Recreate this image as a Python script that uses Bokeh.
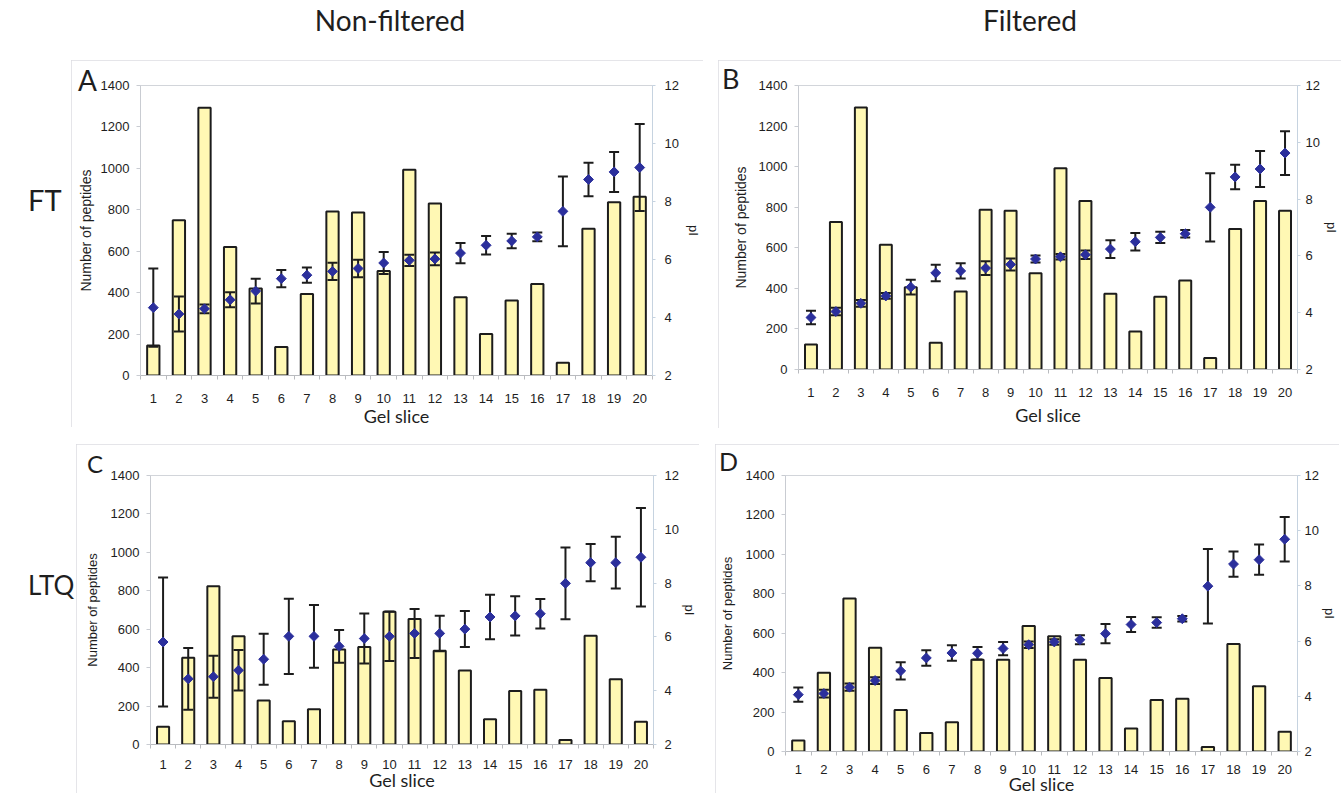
import math
from bokeh.plotting import figure
from bokeh.models import Range1d, LinearAxis, FixedTicker, Div, Spacer
from bokeh.layouts import row, column
from bokeh.embed import file_html
from bokeh.resources import INLINE

# ---------------- data ----------------
slices = list(range(1, 21))
slice_bounds = [s + 0.5 for s in range(0, 21)]
count_ticks = [0, 200, 400, 600, 800, 1000, 1200, 1400]
pi_ticks = [2, 4, 6, 8, 10, 12]

col_titles = ["Non-filtered", "Filtered"]
row_titles = ["FT", "LTQ"]
panel_letters = ["A", "B", "C", "D"]

# Panel A: FT, non-filtered
A_counts = [145, 750, 1293, 620, 420, 137, 393, 792, 787, 505, 993, 830, 378, 200, 362, 442, 61, 708, 836, 863]
A_pi = [4.34, 4.12, 4.30, 4.61, 4.91, 5.34, 5.46, 5.59, 5.69, 5.88, 5.97, 6.02, 6.22, 6.49, 6.64, 6.78, 7.66, 8.76, 9.02, 9.17]
A_err = [1.35, 0.60, 0.15, 0.26, 0.43, 0.30, 0.26, 0.30, 0.30, 0.38, 0.19, 0.22, 0.35, 0.32, 0.25, 0.15, 1.20, 0.58, 0.69, 1.50]

# Panel B: FT, filtered
B_counts = [123, 727, 1292, 615, 405, 132, 385, 787, 782, 475, 992, 831, 374, 187, 359, 439, 57, 693, 831, 782]
B_pi = [3.83, 4.04, 4.33, 4.59, 4.90, 5.40, 5.47, 5.57, 5.70, 5.89, 5.97, 6.04, 6.24, 6.50, 6.65, 6.78, 7.71, 8.78, 9.06, 9.62]
B_err = [0.24, 0.13, 0.12, 0.10, 0.26, 0.29, 0.27, 0.24, 0.21, 0.12, 0.10, 0.15, 0.31, 0.31, 0.20, 0.13, 1.20, 0.43, 0.63, 0.77]

# Panel C: LTQ, non-filtered
C_counts = [92, 451, 823, 563, 229, 121, 184, 494, 508, 691, 653, 488, 385, 131, 279, 285, 24, 566, 340, 118]
C_pi = [5.81, 4.44, 4.52, 4.76, 5.17, 6.02, 6.02, 5.65, 5.94, 6.02, 6.13, 6.13, 6.29, 6.74, 6.78, 6.86, 7.99, 8.76, 8.76, 8.96]
C_err = [2.40, 1.15, 0.78, 0.75, 0.95, 1.40, 1.17, 0.61, 0.93, 0.92, 0.91, 0.66, 0.67, 0.83, 0.73, 0.55, 1.33, 0.69, 0.96, 1.83]

# Panel D: LTQ, filtered
D_counts = [56, 399, 776, 526, 210, 94, 149, 466, 466, 637, 584, 466, 373, 117, 261, 268, 23, 545, 331, 100]
D_pi = [4.06, 4.10, 4.33, 4.57, 4.92, 5.39, 5.57, 5.56, 5.73, 5.87, 5.97, 6.05, 6.27, 6.60, 6.67, 6.81, 7.99, 8.79, 8.95, 9.69]
D_err = [0.26, 0.14, 0.13, 0.12, 0.31, 0.28, 0.28, 0.23, 0.24, 0.12, 0.10, 0.16, 0.35, 0.27, 0.19, 0.10, 1.35, 0.46, 0.55, 0.81]

# ---------------- style ----------------
BAR_FILL = "#fff8b4"
EDGE = "#1c1c1c"
PT = "#2b2f9c"
TXT = "#1e1e1e"
TICK_FONT = "Liberation Sans"
HEAD_FONT = "Lato"


def make_panel(counts, pis, errs, frame_size, borders, ylab_sd, rtick_sd, rlab_sd,
               xtick_sd, xlab_sd, lab_size):
    fw, fh = frame_size
    bl, br, bt, bb = borders
    p = figure(frame_width=fw, frame_height=fh,
               x_range=Range1d(0.5, 20.5), y_range=Range1d(0, 1400),
               output_backend="svg", toolbar_location=None, title=None,
               min_border_left=bl, min_border_right=br,
               min_border_top=bt, min_border_bottom=bb,
               background_fill_color="white", border_fill_color="white")
    p.styles = {"outline": "2px solid #dcdce2", "outline-offset": "-2px"}
    p.extra_y_ranges = {"pi": Range1d(2, 12)}
    p.grid.visible = False
    p.outline_line_color = "#d2d5da"
    p.outline_line_width = 1

    # left axis
    yl = p.yaxis[0]
    yl.ticker = FixedTicker(ticks=count_ticks)
    yl.axis_label = "Number of peptides"
    yl.axis_label_text_font = TICK_FONT
    yl.axis_label_text_font_size = lab_size
    yl.axis_label_text_font_style = "normal"
    yl.axis_label_text_color = TXT
    yl.axis_label_standoff = ylab_sd
    yl.major_label_text_font = TICK_FONT
    yl.major_label_text_font_size = "13px"
    yl.major_label_text_color = TXT
    yl.major_label_standoff = 7
    yl.axis_line_color = "#c9ccd2"
    yl.major_tick_line_color = "#c9ccd2"
    yl.major_tick_out = 4
    yl.major_tick_in = 0
    yl.minor_tick_line_color = None

    # bottom axis
    xa = p.xaxis[0]
    xa.ticker = FixedTicker(ticks=slices, minor_ticks=slice_bounds)
    xa.axis_label = "Gel slice"
    xa.axis_label_text_font = HEAD_FONT
    xa.axis_label_text_font_size = "18px"
    xa.axis_label_text_font_style = "normal"
    xa.axis_label_text_color = TXT
    xa.axis_label_standoff = xlab_sd
    xa.major_label_text_font = TICK_FONT
    xa.major_label_text_font_size = "13px"
    xa.major_label_text_color = TXT
    xa.major_label_standoff = xtick_sd
    xa.axis_line_color = "#b9bbbf"
    xa.major_tick_out = 4
    xa.major_tick_in = 0
    xa.major_tick_line_color = None
    xa.minor_tick_out = 4
    xa.minor_tick_in = 0
    xa.minor_tick_line_color = "#b9bbbf"

    # right axis (pI)
    ra = LinearAxis(y_range_name="pi", ticker=FixedTicker(ticks=pi_ticks), axis_label="pI")
    ra.axis_label_text_font = TICK_FONT
    ra.axis_label_text_font_size = "13px"
    ra.axis_label_text_font_style = "normal"
    ra.axis_label_text_color = TXT
    ra.axis_label_standoff = rlab_sd
    ra.major_label_text_font = TICK_FONT
    ra.major_label_text_font_size = "13px"
    ra.major_label_text_color = TXT
    ra.major_label_standoff = rtick_sd
    ra.axis_line_color = "#c6d3e0"
    ra.major_tick_line_color = "#c6d3e0"
    ra.major_tick_out = 3
    ra.major_tick_in = 0
    ra.minor_tick_line_color = None
    p.add_layout(ra, "right")

    # bars
    p.vbar(x=slices, top=counts, bottom=0, width=0.48,
           fill_color=BAR_FILL, line_color=EDGE, line_width=2)
    # error bars
    lo = [v - e for v, e in zip(pis, errs)]
    hi = [v + e for v, e in zip(pis, errs)]
    p.segment(x0=slices, y0=lo, x1=slices, y1=hi, y_range_name="pi",
              line_color=EDGE, line_width=2)
    p.scatter(x=slices + slices, y=lo + hi, marker="dash", size=10,
              line_color=EDGE, line_width=2, y_range_name="pi")
    # pI diamonds
    p.scatter(x=slices, y=pis, marker="square", size=7, angle=math.pi / 4,
              fill_color=PT, line_color=PT, y_range_name="pi")
    return p


#                                               frame      borders (l, r, t, b)
pA = make_panel(A_counts, A_pi, A_err, (512, 290), (69, 45, 23, 54), 4, 9, 4, 14, -1, "14px")
pB = make_panel(B_counts, B_pi, B_err, (499, 284), (80, 38, 25, 58), 7, 5, 1, 14, 4, "14px")
pC = make_panel(C_counts, C_pi, C_err, (503, 269), (74, 41, 31, 49), 8, 8, 0, 11, -3, "13px")
pD = make_panel(D_counts, D_pi, D_err, (512, 276), (70, 36, 27, 46), 8, 4, 0, 9, -4, "13px")


def txt(s, left, top, size, center=False):
    if center:
        return (f'<div style="position:absolute;left:{left - 200}px;top:{top}px;width:400px;'
                f'text-align:center;font-size:{size}px;line-height:1;white-space:nowrap">{s}</div>')
    return (f'<div style="position:absolute;left:{left}px;top:{top}px;font-size:{size}px;'
            f'line-height:1;white-space:nowrap">{s}</div>')


overlay = (
    f'<div style="position:relative;width:1326px;height:50px;font-family:{HEAD_FONT};color:{TXT}">'
    + txt(col_titles[0], 385, 1, 28, center=True)
    + txt(col_titles[1], 1025, 1, 28, center=True)
    + txt(row_titles[0], 23, 180, 29)
    + txt(row_titles[1], 23, 567, 26)
    + txt(panel_letters[0], 73, 61, 28)
    + txt(panel_letters[1], 717, 60, 27)
    + txt(panel_letters[2], 82, 447, 24)
    + txt(panel_letters[3], 714, 444, 25)
    + '</div>'
)
header = Div(text=overlay, width=1326, height=50,
             styles={"z-index": "10", "overflow": "visible", "position": "relative"})

layout = column(
    header,
    row(Spacer(width=71, height=367), pA, Spacer(width=15, height=367), pB),
    Spacer(width=10, height=16),
    row(Spacer(width=76, height=349), pC, Spacer(width=16, height=349), pD),
)

open("out.html", "w").write(file_html(layout, INLINE))
